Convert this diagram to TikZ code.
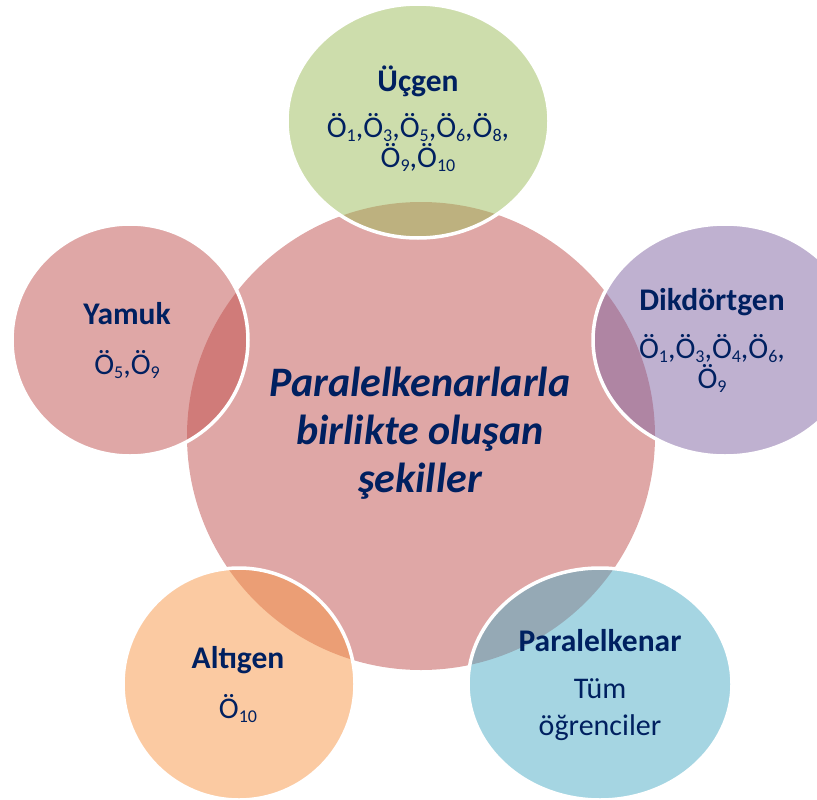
\documentclass[tikz,border=0pt]{standalone}
\usepackage{fontspec}
\setmainfont{Carlito}
\usetikzlibrary{shapes.geometric}
\definecolor{navy}{HTML}{002060}
\definecolor{cred}{HTML}{C0504D}
\definecolor{cgreen}{HTML}{9BBB59}
\definecolor{cpurple}{HTML}{8064A2}
\definecolor{cblue}{HTML}{4BACC6}
\definecolor{corange}{HTML}{F79646}
\newcommand\subo[1]{\raisebox{-0.32ex}{\fontsize{18}{18}\selectfont #1}}
\tikzset{
  bubble/.style={ellipse, inner sep=0pt, fill opacity=0.5, draw=white, line width=3.5pt},
  centre/.style={circle, inner sep=0pt, fill opacity=0.5, draw=none, minimum size=468pt},
  ttl/.style={text=navy, font=\fontsize{31.5}{36}\selectfont\bfseries},
  body/.style={text=navy, font=\fontsize{30}{30}\selectfont, align=center},
  ctext/.style={text=navy, font=\fontsize{42}{48}\selectfont\bfseries\itshape, align=center}
}
\begin{document}
\begin{tikzpicture}[x=1pt, y=-1pt]
\useasboundingbox (0,0) rectangle (817,800);
\clip (0,0) rectangle (817,800);
\node[centre, fill=cred] (c) at (421,436) {};
\node[bubble, fill=cgreen, minimum width=262pt, minimum height=234pt] (u) at (418,121) {};
\node[bubble, fill=cpurple, minimum width=264pt, minimum height=232pt] (d) at (725,340) {};
\node[bubble, fill=cred, minimum width=236pt, minimum height=232pt] (y) at (130,340) {};
\node[bubble, fill=corange, minimum width=232pt, minimum height=232pt] (a) at (239,684) {};
\node[bubble, fill=cblue, minimum width=264pt, minimum height=232pt] (p) at (600,684) {};
% texts (anchor=base is the baseline of the last line)
\node[ctext, anchor=base] (ct) at (420,492) {Paralelkenarlarla\\birlikte oluşan\\şekiller};
\node[ttl, anchor=base] (ut) at (418,92) {Üçgen};
\node[body, anchor=base] (ub) at (418,167) {Ö\subo{1},Ö\subo{3},Ö\subo{5},Ö\subo{6},Ö\subo{8},\\Ö\subo{9},Ö\subo{10}};
\node[ttl, anchor=base] (dt) at (712,310) {Dikdörtgen};
\node[body, anchor=base] (db) at (712,388) {Ö\subo{1},Ö\subo{3},Ö\subo{4},Ö\subo{6},\\Ö\subo{9}};
\node[ttl, anchor=base] (yt) at (127,324) {Yamuk};
\node[body, anchor=base] (yb) at (127,374) {Ö\subo{5},Ö\subo{9}};
\node[ttl, anchor=base] (at) at (238,668) {Altıgen};
\node[body, anchor=base] (ab) at (238,718) {Ö\subo{10}};
\node[ttl, anchor=base] (pt) at (600,651) {Paralelkenar};
\node[body, anchor=base, font=\fontsize{30}{37}\selectfont] (pb) at (600,735) {Tüm\\öğrenciler};
\end{tikzpicture}
\end{document}
